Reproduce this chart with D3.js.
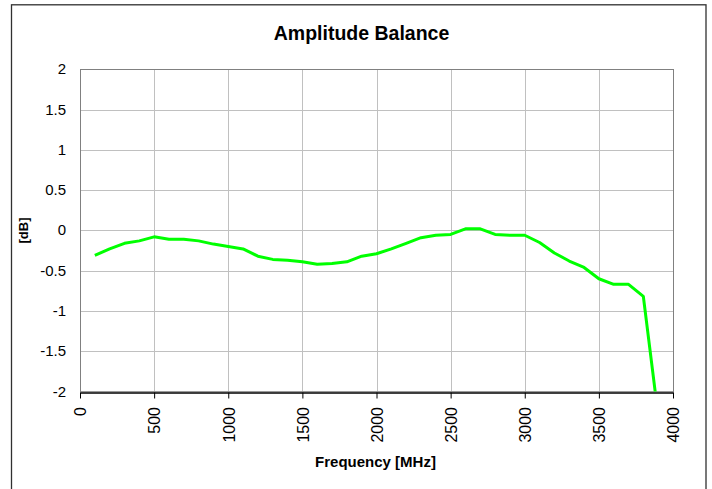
<!DOCTYPE html>
<html>
<head>
<meta charset="utf-8">
<script src="https://cdn.jsdelivr.net/npm/d3@7"></script>
<style>
  body { margin: 0; background: #fff; }
  text { font-family: "Liberation Sans", Arial, sans-serif; fill: #000; }
</style>
</head>
<body>
<div id="viz"></div>
<script>
var width = 712;
var height = 489;

// data
var freq = [100, 200, 300, 400, 500, 600, 700, 800, 900, 1000,
  1100, 1200, 1300, 1400, 1500, 1600, 1700, 1800, 1900, 2000,
  2100, 2200, 2300, 2400, 2500, 2600, 2700, 2800, 2900, 3000,
  3100, 3200, 3300, 3400, 3500, 3600, 3700, 3800, 3900];
var balance = [-0.31, -0.23, -0.16, -0.13, -0.08, -0.11, -0.11, -0.13, -0.17, -0.20,
  -0.23, -0.32, -0.36, -0.37, -0.39, -0.42, -0.41, -0.39, -0.32, -0.29,
  -0.23, -0.16, -0.09, -0.06, -0.05, 0.02, 0.02, -0.05, -0.06, -0.06,
  -0.15, -0.28, -0.38, -0.46, -0.60, -0.67, -0.67, -0.82, -2.3];

var xTicks = [0, 500, 1000, 1500, 2000, 2500, 3000, 3500, 4000];
var yTicks = [-2, -1.5, -1, -0.5, 0, 0.5, 1, 1.5, 2];

var plot = { left: 80, right: 673, top: 69.3, bottom: 391.5 };

var x = d3.scaleLinear().domain([0, 4000]).range([plot.left, plot.right]);
var y = d3.scaleLinear().domain([-2, 2]).range([plot.bottom, plot.top]);

var svg = d3.select('#viz').append('svg')
  .attr('width', width)
  .attr('height', height);

// outer chart frame
svg.append('rect')
  .attr('x', 11.5).attr('y', 4.8)
  .attr('width', 694.5).attr('height', 500)
  .style('fill', 'none')
  .style('stroke', '#303030')
  .style('stroke-width', 1.3);

// grid
svg.append('g')
  .selectAll('line')
  .data(xTicks.slice(1, -1)).enter()
  .append('line')
  .attr('x1', function (d) { return Math.round(x(d)) + 0.5; })
  .attr('x2', function (d) { return Math.round(x(d)) + 0.5; })
  .attr('y1', plot.top).attr('y2', plot.bottom)
  .style('stroke', '#c0c0c0');

svg.append('g')
  .selectAll('line')
  .data(yTicks.slice(1, -1)).enter()
  .append('line')
  .attr('y1', function (d) { return Math.round(y(d)) + 0.5; })
  .attr('y2', function (d) { return Math.round(y(d)) + 0.5; })
  .attr('x1', plot.left).attr('x2', plot.right)
  .style('stroke', '#c0c0c0');

// plot frame (grey)
svg.append('rect')
  .attr('x', plot.left + 0.5).attr('y', Math.round(plot.top) + 0.5)
  .attr('width', plot.right - plot.left)
  .attr('height', plot.bottom - plot.top)
  .style('fill', 'none')
  .style('stroke', '#808080');

// line, clipped to plot
svg.append('clipPath').attr('id', 'clip')
  .append('rect')
  .attr('x', plot.left).attr('y', plot.top)
  .attr('width', plot.right - plot.left)
  .attr('height', plot.bottom - plot.top);

var line = d3.line()
  .x(function (d, i) { return x(freq[i]); })
  .y(function (d) { return y(d); });

svg.append('path')
  .datum(balance)
  .attr('clip-path', 'url(#clip)')
  .attr('d', line)
  .style('fill', 'none')
  .style('stroke', '#00ff00')
  .style('stroke-width', 3)
  .style('stroke-linejoin', 'round');

// x axis
var xAxis = svg.append('g')
  .attr('transform', 'translate(0,' + (Math.round(plot.bottom) + 0.5) + ')')
  .call(d3.axisBottom(x).tickValues(xTicks).tickSize(6).tickSizeOuter(0).tickFormat(d3.format('d')));
xAxis.select('.domain').style('stroke', '#000').style('stroke-width', 1.3);
xAxis.selectAll('.tick line').style('stroke', '#000');
xAxis.selectAll('.tick text')
  .attr('transform', 'rotate(-90)')
  .attr('x', -14.5).attr('y', 0).attr('dy', '0.36em')
  .style('text-anchor', 'end')
  .style('font-size', '16px')
  .style('font-family', '"Liberation Sans", Arial, sans-serif');

// y axis labels (no tick marks)
var yAxis = svg.append('g')
  .attr('transform', 'translate(' + (plot.left + 0.5) + ',0)')
  .call(d3.axisLeft(y).tickValues(yTicks).tickSize(0).tickFormat(function (d) { return String(d); }));
yAxis.select('.domain').remove();
yAxis.selectAll('.tick text')
  .attr('x', -14.5).attr('dy', '0.3em')
  .style('font-size', '15px')
  .style('font-family', '"Liberation Sans", Arial, sans-serif');

// titles
svg.append('text')
  .attr('x', 361.5).attr('y', 40)
  .style('text-anchor', 'middle')
  .style('font-size', '19.5px')
  .style('font-weight', 'bold')
  .text('Amplitude Balance');

svg.append('text')
  .attr('x', 375.5).attr('y', 466.5)
  .style('text-anchor', 'middle')
  .style('font-size', '15px')
  .style('font-weight', 'bold')
  .text('Frequency [MHz]');

svg.append('text')
  .attr('transform', 'translate(28,230.5) rotate(-90)')
  .style('text-anchor', 'middle')
  .style('font-size', '13px')
  .style('font-weight', 'bold')
  .text('[dB]');
</script>
</body>
</html>
